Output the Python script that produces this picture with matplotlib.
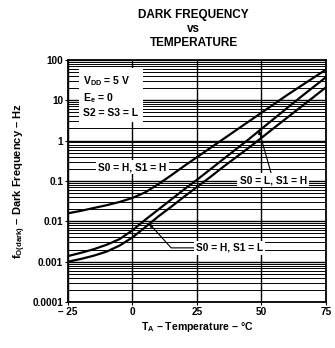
import matplotlib
matplotlib.use("Agg")
import matplotlib.pyplot as plt
from matplotlib.ticker import FixedLocator, LogLocator, NullFormatter

plt.rcParams['font.family'] = ['Liberation Sans', 'DejaVu Sans']
plt.rcParams['font.weight'] = 'bold'
plt.rcParams['mathtext.fontset'] = 'custom'
plt.rcParams['mathtext.rm'] = 'Liberation Sans:bold'
plt.rcParams['mathtext.it'] = 'Liberation Sans:bold'
plt.rcParams['mathtext.bf'] = 'Liberation Sans:bold'

# temperature points (degC)
temp = [-25, -20, -15, -10, -5, 0, 5, 10, 15, 20, 25, 30, 35, 40, 45, 50, 55, 60, 65, 70, 75]

# dark frequency (Hz)
f_hh = [0.0158, 0.0182, 0.0214, 0.0251, 0.0302, 0.038, 0.0525, 0.083, 0.138, 0.234, 0.389,
        0.646, 1.07, 1.78, 2.95, 4.9, 8.1, 13.5, 21.9, 35.5, 57.5]          # S0 = H, S1 = H
f_lh = [0.00138, 0.00166, 0.00204, 0.00263, 0.00363, 0.0060, 0.011, 0.0195, 0.0347, 0.0617,
        0.107, 0.19, 0.339, 0.603, 1.07, 1.95, 3.55, 6.46, 11.7, 20.9, 37.2]  # S0 = L, S1 = H
f_hl = [0.0010, 0.00117, 0.00141, 0.00178, 0.00251, 0.0040, 0.0072, 0.0132, 0.0229, 0.0407,
        0.0708, 0.123, 0.219, 0.38, 0.66, 1.17, 2.09, 3.72, 6.6, 11.7, 20.9]  # S0 = H, S1 = L

x_ticks = [-25, 0, 25, 50, 75]
x_labels = ['– 25', '0', '25', '50', '75']
y_ticks = [0.0001, 0.001, 0.01, 0.1, 1, 10, 100]
y_labels = ['0.0001', '0.001', '0.01', '0.1', '1', '10', '100']

fig = plt.figure(figsize=(3.35, 3.48), dpi=100)
ax = fig.add_axes([0.203, 0.132, 0.770, 0.696])

ax.set_yscale('log')
ax.set_xlim(-25, 75)
ax.set_ylim(0.0001, 100)

# log grid, dense like the data sheet
ax.yaxis.set_major_locator(FixedLocator(y_ticks))
ax.yaxis.set_minor_locator(LogLocator(base=10, subs=range(2, 10)))
ax.yaxis.set_minor_formatter(NullFormatter())
ax.set_yticklabels(y_labels)
ax.set_xticks(x_ticks)
ax.set_xticklabels(x_labels)
ax.grid(True, which='major', axis='both', color='black', linewidth=1.0)
ax.grid(True, which='minor', axis='y', color='black', linewidth=0.7)
ax.tick_params(axis='both', which='major', labelsize=7.2, length=2, width=0.8, pad=1.5)
ax.tick_params(axis='y', which='minor', length=0)
for sp in ax.spines.values():
    sp.set_linewidth(1.3)

ax.plot(temp, f_hh, color='black', linewidth=1.6, zorder=3)
ax.plot(temp, f_lh, color='black', linewidth=1.6, zorder=3)
ax.plot(temp, f_hl, color='black', linewidth=1.6, zorder=3)

box = dict(facecolor='white', edgecolor='none', pad=1.5)

ax.text(-19, 45, 'V$_{DD}$ = 5 V\nE$_e$ = 0\nS2 = S3 = L', fontsize=7.5, fontweight='bold',
        va='top', ha='left', linespacing=1.35, zorder=5,
        bbox=dict(facecolor='white', edgecolor='none', pad=3))

ax.text(0, 0.22, 'S0 = H, S1 = H', fontsize=7.3, fontweight='bold', ha='center', va='center',
        zorder=5, bbox=box)

ax.annotate('S0 = L, S1 = H', xy=(49, 1.8), xytext=(54.5, 0.105), fontsize=7.3,
            fontweight='bold', ha='center', va='center', zorder=5, bbox=box,
            arrowprops=dict(arrowstyle='-|>', color='black', linewidth=0.8,
                            mutation_scale=5, shrinkA=0, shrinkB=0))

ax.annotate('S0 = H, S1 = L', xy=(6.5, 0.0088), xytext=(37.5, 0.0022), fontsize=7.3,
            fontweight='bold', ha='center', va='center', zorder=5, bbox=box,
            arrowprops=dict(arrowstyle='-|>', color='black', linewidth=0.8,
                            mutation_scale=5, shrinkA=0, shrinkB=0,
                            connectionstyle='angle,angleA=0,angleB=132,rad=0'))

ax.set_xlabel('T$_A$ – Temperature – °C', fontsize=7.6, fontweight='bold', labelpad=2)
ax.set_ylabel('f$_{O(dark)}$ – Dark Frequency – Hz', fontsize=8, fontweight='bold', labelpad=3)

fig.text(0.578, 0.957, 'DARK FREQUENCY', fontsize=8.5, fontweight='bold', ha='center', va='center')
fig.text(0.578, 0.916, 'vs', fontsize=8.5, fontweight='bold', ha='center', va='center')
fig.text(0.578, 0.877, 'TEMPERATURE', fontsize=8.5, fontweight='bold', ha='center', va='center')

fig.savefig('out.png', dpi=100)
